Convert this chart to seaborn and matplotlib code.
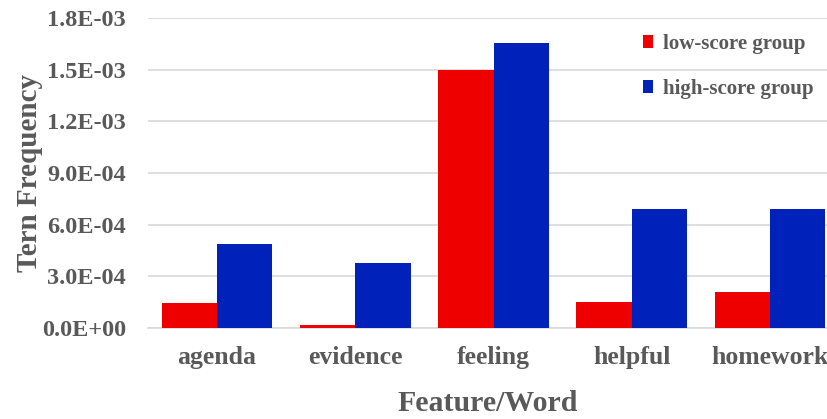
import matplotlib
matplotlib.use("Agg")
import matplotlib.pyplot as plt
import seaborn as sns
import pandas as pd
from matplotlib.ticker import FuncFormatter

words = ["agenda", "evidence", "feeling", "helpful", "homework"]
groups = ["low-score group", "high-score group"]
low_score = [1.47e-4, 1.7e-5, 1.50e-3, 1.53e-4, 2.09e-4]
high_score = [4.86e-4, 3.79e-4, 1.655e-3, 6.89e-4, 6.89e-4]
y_ticks = [0.0, 3.0e-4, 6.0e-4, 9.0e-4, 1.2e-3, 1.5e-3, 1.8e-3]

df = pd.DataFrame({
    "Feature/Word": words * 2,
    "Tern Frequency": low_score + high_score,
    "group": [groups[0]] * len(words) + [groups[1]] * len(words),
})

sns.set_theme(style="white")
plt.rcParams["font.family"] = ["Liberation Serif", "DejaVu Serif"]
plt.rcParams["font.weight"] = "bold"
text_color = "#595959"

fig = plt.figure(figsize=(8.28, 4.19), dpi=100)
ax = fig.add_axes([148 / 828, 1 - 328 / 419, 1 - 148 / 828, (328 - 18) / 419])

sns.barplot(data=df, x="Feature/Word", y="Tern Frequency", hue="group",
            palette=["#EE0000", "#0022BB"], width=0.8, saturation=1,
            edgecolor="none", ax=ax, zorder=3)

ax.set_ylim(0, 1.8e-3)
ax.set_xlim(-0.5, 4.42)
ax.set_yticks(y_ticks)
ax.yaxis.set_major_formatter(FuncFormatter(
    lambda v, p: "0.0E+00" if v == 0 else f"{v:.1E}"))
ax.grid(axis="y", color="#D9D9D9", linewidth=1.2, zorder=0)
for s in ["top", "right", "left"]:
    ax.spines[s].set_visible(False)
ax.spines["bottom"].set_color("#D9D9D9")
ax.spines["bottom"].set_linewidth(1.2)
ax.tick_params(axis="both", length=0, colors=text_color)
ax.tick_params(axis="x", pad=13, labelsize=18.5)
ax.tick_params(axis="y", pad=16, labelsize=17.5)
for lab in ax.get_xticklabels() + ax.get_yticklabels():
    lab.set_fontweight("bold")

ax.set_xlabel("Feature/Word", fontsize=21.5, fontweight="bold", color=text_color, labelpad=15)
ax.set_ylabel("Tern Frequency", fontsize=21, fontweight="bold", color=text_color, labelpad=-1)

leg = ax.legend(loc="upper right", bbox_to_anchor=(1.0, 0.995), frameon=False,
                fontsize=15, handlelength=0.5, handleheight=0.55, handletextpad=0.45,
                labelspacing=1.2, borderaxespad=0.3)
for t in leg.get_texts():
    t.set_color(text_color)
    t.set_fontweight("bold")

fig.savefig("out.png", dpi=100)
